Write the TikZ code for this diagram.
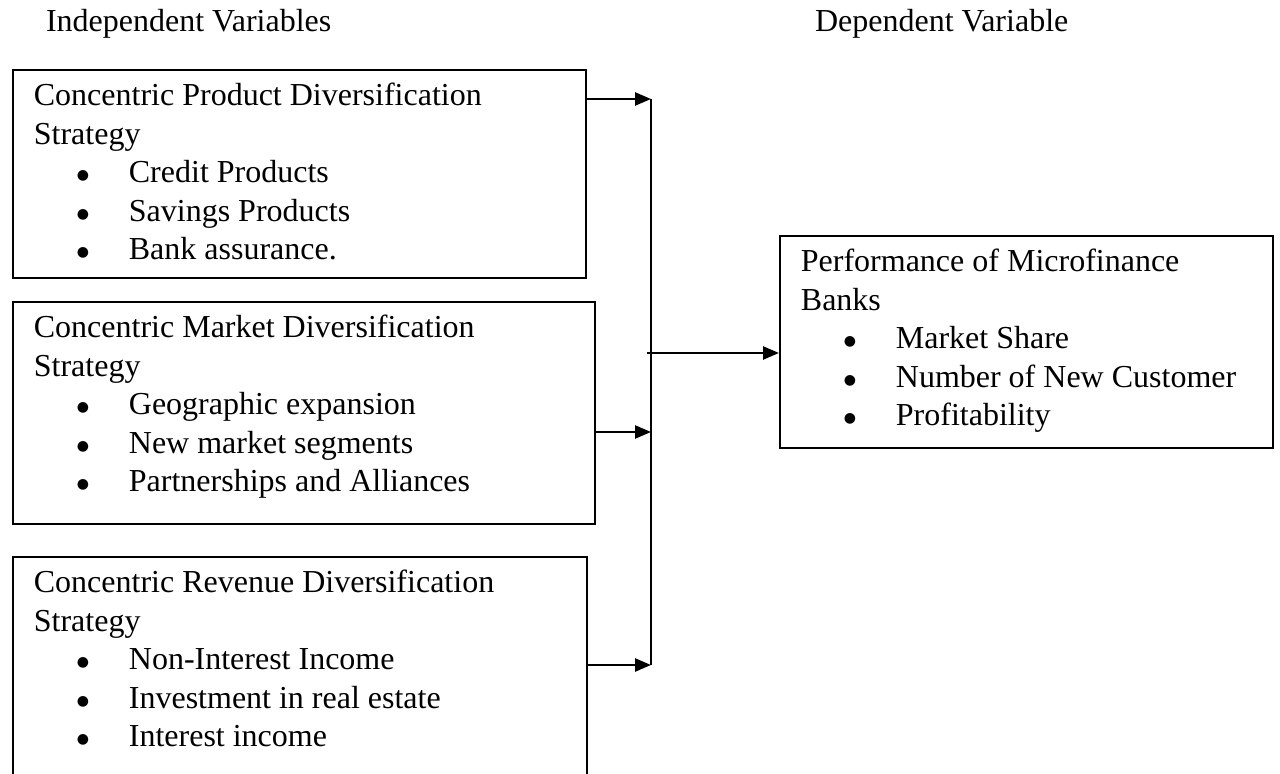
\documentclass[tikz,border=0pt]{standalone}
\usepackage{fontspec}
\setmainfont{Liberation Serif}
\newfontfamily\symfont{DejaVu Sans}
\usepackage{tikz}
\usetikzlibrary{arrows.meta}
\newcommand{\bdot}{\raisebox{1.6pt}{\symfont\fontsize{7pt}{8pt}\selectfont ●}}
\newcommand{\bul}[1]{\\\hspace*{21.5pt}\makebox[26pt][l]{\bdot}#1}
\newcommand{\boxtext}[3]{\parbox[c][#2][t]{#1}{\rule{0pt}{18pt}#3}}

\begin{document}
\begin{tikzpicture}[x=0.5pt, y=-0.5pt,
  varbox/.style={draw, line width=0.9pt, anchor=north west, inner xsep=10.5pt, inner ysep=0pt},
  link/.style={line width=1.3pt, -{Triangle[length=8pt,width=6.5pt]}},
  every node/.style={font=\fontsize{16pt}{19.25pt}\selectfont}]
 \useasboundingbox (0,0) rectangle (1280,774);
 \node[anchor=base west] (indep) at (39,32) {Independent Variables};
 \node[anchor=base west] (dep) at (808,32) {Dependent Variable};
 \node[varbox] (prod) at (12,69) {\boxtext{265.5pt}{104pt}{Concentric Product Diversification\\Strategy\bul{Credit Products}\bul{Savings Products}\bul{Bank assurance.}}};
 \node[varbox] (mkt) at (12,301) {\boxtext{270pt}{111pt}{Concentric Market Diversification\\Strategy\bul{Geographic expansion}\bul{New market segments}\bul{Partnerships and Alliances}}};
 \node[varbox] (rev) at (12,556) {\boxtext{266pt}{125pt}{Concentric Revenue Diversification\\Strategy\bul{Non-Interest Income}\bul{Investment in real estate}\bul{Interest income}}};
 \node[varbox] (perf) at (779,235) {\boxtext{225.5pt}{106pt}{Performance of Microfinance\\Banks\bul{Market Share}\bul{Number of New Customer}\bul{Profitability}}};
 \coordinate (j1) at (651,99);
 \coordinate (j2) at (651,432);
 \coordinate (j3) at (651,665);
 \coordinate (jm) at (647,353);
 \draw[line width=1.3pt] (j1) -- (j3);
 \draw[link] (j1 -| prod.east) -- (j1);
 \draw[link] (j2 -| mkt.east) -- (j2);
 \draw[link] (j3 -| rev.east) -- (j3);
 \draw[link] (jm) -- (jm -| perf.west);
\end{tikzpicture}
\end{document}
